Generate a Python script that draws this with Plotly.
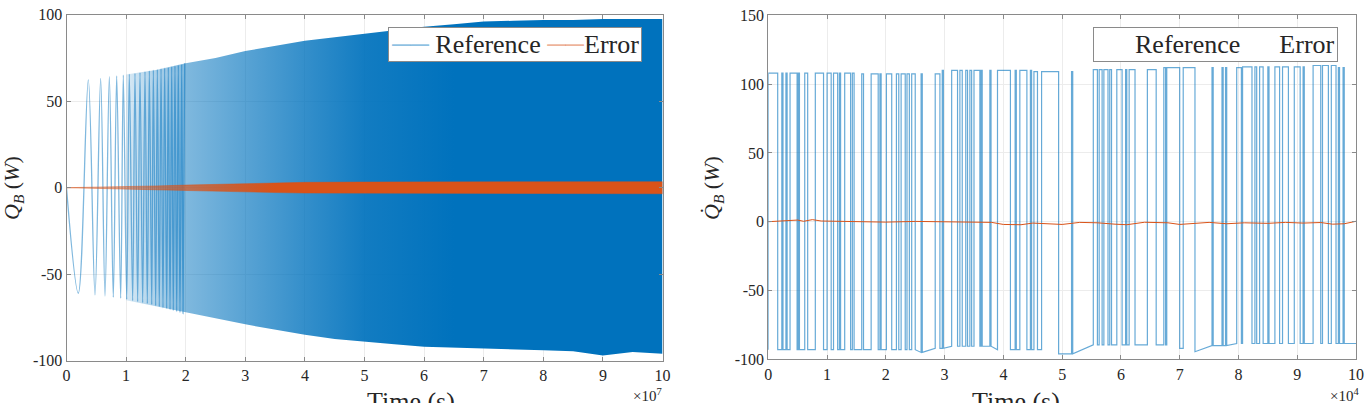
import numpy as np
import plotly.graph_objects as go

# ---------------- left panel: Q_B over time (time in units of 1e7 s) ----------------
# first visible oscillations of the reference chirp (peaks / troughs)
osc_t = [0, 0.198, 0.366, 0.478, 0.573, 0.646, 0.719, 0.785, 0.842, 0.909, 0.953,
         1.010, 1.054, 1.110, 1.149, 1.194, 1.233, 1.278, 1.317, 1.356, 1.390,
         1.430, 1.457, 1.496, 1.524, 1.557, 1.586, 1.619, 1.647, 1.681, 1.708,
         1.737, 1.765, 1.792, 1.820, 1.849, 1.876, 1.904, 1.933, 1.955, 1.983]
osc_q = [0, -61.0, 62.3, -62.0, 63.2, -62.6, 64.2, -63.4, 64.6, -63.9, 65.1,
         -64.5, 65.7, -65.3, 66.1, -65.9, 66.5, -66.5, 67.1, -67.0, 67.5,
         -67.6, 68.0, -68.2, 68.4, -68.8, 68.8, -69.4, 69.2, -69.9, 69.6,
         -70.5, 70.0, -71.1, 70.4, -71.7, 70.8, -72.2, 71.3, -72.8, 71.9]

# envelope of the dense part of the reference signal
env_t = [1, 1.5, 2, 2.5, 3, 3.5, 4, 4.5, 5, 5.5, 6, 6.5, 7, 7.5, 8, 8.5, 9, 9.5, 10]
env_upper = [65.5, 68, 72, 75, 79, 82, 85, 87, 89, 91, 93, 94.5, 96, 96.5, 97, 97, 97.5, 97.5, 97.5]
env_lower = [-65, -68.5, -72, -75.5, -79, -82, -85, -87.5, -89, -90.5, -92, -92.5, -93,
             -93.5, -94, -94.5, -97, -95, -96]

# error band amplitude
err_t = [0, 0.5, 1, 1.5, 2, 2.5, 3, 3.5, 4, 5, 6, 7, 8, 9, 10]
err_amp = [0, 0.2, 0.6, 1.0, 1.5, 2.0, 2.4, 2.8, 3.1, 3.3, 3.4, 3.4, 3.5, 3.5, 3.5]

# ---------------- right panel: Qdot_B over time (time in units of 1e4 s) ----------------
hi_start = [0.00, 0.23, 0.30, 0.37, 0.51, 0.62, 0.80, 1.00, 1.11, 1.21, 1.30, 1.43, 1.59,
            1.75, 1.90, 2.01, 2.18, 2.26, 2.36, 2.44, 2.60, 2.84, 2.96, 3.12, 3.26,
            3.36, 3.43, 3.50, 3.62, 3.77, 3.90, 4.20, 4.28, 4.46, 4.52, 4.65, 5.16,
            5.53, 5.63, 5.71, 5.81, 5.93, 6.08, 6.14, 6.45,
            6.73, 6.78, 7.06, 7.55, 7.72, 7.78, 7.97, 8.07, 8.28, 8.36, 8.50, 8.62,
            8.75, 8.95, 9.10, 9.27, 9.43, 9.58, 9.70, 9.78]
hi_end = [0.16, 0.25, 0.32, 0.49, 0.53, 0.67, 0.94, 1.07, 1.18, 1.23, 1.40, 1.46, 1.62,
          1.87, 1.92, 2.10, 2.22, 2.33, 2.40, 2.50, 2.62, 2.92, 2.98, 3.22, 3.30,
          3.39, 3.46, 3.60, 3.64, 3.79, 4.12, 4.22, 4.40, 4.48, 4.58, 4.94, 5.18,
          5.60, 5.68, 5.78, 5.84, 6.02, 6.10, 6.24, 6.60,
          6.76, 7.00, 7.26, 7.57, 7.74, 7.80, 8.05, 8.23, 8.31, 8.42, 8.52, 8.70,
          8.85, 9.05, 9.12, 9.40, 9.53, 9.66, 9.72, 9.80]

# plateau levels (step bands)
hi_band_t = [0, 1.5, 2.9, 4.5, 5.5, 6.7, 8.0, 9.2, 9.7]
hi_band_v = [108, 107.5, 110, 109, 110.5, 112, 112.5, 113.5, 112]
lo_band_t = [0, 2.55, 2.7, 3.0, 3.9, 4.9, 5.2, 5.45, 6.9, 7.2, 7.35, 7.9]
lo_band_v = [-93, -95, -92, -90.5, -93, -96, -92, -89.5, -92, -94.5, -90, -88.5]

# tracking error of the rate
rerr_t = [0, 0.3, 0.5, 0.6, 0.75, 0.9, 1.5, 2.0, 2.5, 3.0, 3.5, 3.8, 4.0, 4.3, 4.5, 4.8,
          5.0, 5.3, 5.6, 5.9, 6.1, 6.4, 6.8, 7.0, 7.2, 7.5, 7.8, 8.1, 8.5, 8.8, 9.1,
          9.4, 9.6, 9.8, 10]
rerr_q = [0, 0.8, 1.2, 0.3, 1.5, 0.5, 0.2, -0.3, 0.2, 0, -0.3, -0.5, -2.0, -2.2, -1.0,
          -1.5, -2.0, -0.5, -0.8, -1.8, -2.2, -0.4, -0.8, -2.0, -1.5, -0.5, -1.5, -0.8,
          -1.2, -0.5, -1.0, -0.6, -1.8, -1.5, 0.3]

# tick labels (plain hyphen minus as in the original)
left_yticks = [-100, -50, 0, 50, 100]
left_ylabels = ["-100", "-50", "0", "50", "100"]
right_yticks = [-100, -50, 0, 50, 100, 150]
right_ylabels = ["-100", "-50", "0", "50", "100", "150"]


def band_value(t, band_t, band_v):
    return band_v[np.searchsorted(band_t, t, side="right") - 1]


# build step signal from the plateau intervals
rx, ry = [], []
for s, e in zip(hi_start, hi_end):
    h = band_value(s, hi_band_t, hi_band_v)
    rx += [s, s, e, e]
    ry += [band_value(s, lo_band_t, lo_band_v), h, h, band_value(e, lo_band_t, lo_band_v)]
rx.append(10)
ry.append(band_value(10, lo_band_t, lo_band_v))

ORANGE = "#D95319"
SERIF = "Liberation Serif, Times New Roman, Times, serif"
TXT = "#262626"

fig = go.Figure()

# left panel traces
fig.add_trace(go.Scatter(
    x=env_t + env_t[::-1], y=env_upper + env_lower[::-1], fill="toself", mode="lines",
    line=dict(width=0),
    fillgradient=dict(type="horizontal", start=1.0, stop=6.5, colorscale=[
        [0, "rgba(0,114,189,0.15)"], [0.18, "rgba(0,114,189,0.5)"],
        [0.36, "rgba(0,114,189,0.65)"], [0.55, "rgba(0,114,189,0.8)"],
        [0.73, "rgba(0,114,189,0.93)"], [1, "rgba(0,114,189,1)"]]),
    hoverinfo="skip", xaxis="x", yaxis="y"))
fig.add_trace(go.Scatter(
    x=osc_t, y=osc_q, mode="lines", line=dict(color="rgba(0,114,189,0.5)", width=1.3, shape="spline"),
    xaxis="x", yaxis="y"))
fig.add_trace(go.Scatter(
    x=err_t + err_t[::-1], y=err_amp + [-a for a in err_amp[::-1]], fill="toself", mode="lines",
    line=dict(width=0.8, color="rgba(217,83,25,0.6)"),
    fillgradient=dict(type="horizontal", start=0.5, stop=3.5, colorscale=[
        [0, "rgba(217,83,25,0.4)"], [1, "rgba(217,83,25,1)"]]),
    hoverinfo="skip", xaxis="x", yaxis="y"))

# right panel traces
fig.add_trace(go.Scatter(x=rx, y=ry, mode="lines", line=dict(color="rgba(0,114,189,0.6)", width=1.2),
                         xaxis="x2", yaxis="y2"))
fig.add_trace(go.Scatter(x=rerr_t, y=rerr_q, mode="lines", line=dict(color=ORANGE, width=1),
                         xaxis="x2", yaxis="y2"))

axis_style = dict(showline=True, linecolor="#8a8a8a", linewidth=1, mirror="ticks",
                  ticks="inside", ticklen=4, tickcolor="#8a8a8a", showgrid=True,
                  gridcolor="#ececec", zeroline=False, automargin=False,
                  tickfont=dict(family=SERIF, size=16, color=TXT))

W, H = 1370, 403
fig.update_layout(
    width=W, height=H, margin=dict(l=0, r=0, t=0, b=0),
    plot_bgcolor="white", paper_bgcolor="white", showlegend=False,
    xaxis=dict(domain=[66.5 / W, 662.5 / W], range=[0, 10], dtick=1, anchor="y", **axis_style),
    yaxis=dict(domain=[1 - 360.7 / H, 1 - 14.7 / H], range=[-100, 100], tickvals=left_yticks,
               ticktext=left_ylabels, anchor="x", **axis_style),
    xaxis2=dict(domain=[768.3 / W, 1356 / W], range=[0, 10], dtick=1, anchor="y2", **axis_style),
    yaxis2=dict(domain=[1 - 359.3 / H, 1 - 15.3 / H], range=[-100, 150], tickvals=right_yticks,
                ticktext=right_ylabels, anchor="x2", **axis_style),
)

# legends as boxed text (MATLAB-style compact legend boxes)
sample = '<span style="color:{}">\u2500\u2500</span>'
nb = "\u00a0"
legend_font = dict(family=SERIF, size=26, color=TXT)
fig.add_annotation(x=642 / W, y=1 - 27 / H, xref="paper", yref="paper", xanchor="right",
                   yanchor="top", showarrow=False, bgcolor="white", bordercolor="#8a8a8a",
                   borderwidth=1, borderpad=2, font=legend_font,
                   text=sample.format("rgba(0,114,189,0.45)") + nb + "Reference" + nb
                   + sample.format("rgba(217,83,25,0.45)") + "Error")
fig.add_annotation(x=1338 / W, y=1 - 27 / H, xref="paper", yref="paper", xanchor="right",
                   yanchor="top", showarrow=False, bgcolor="white", bordercolor="#8a8a8a",
                   borderwidth=1, borderpad=2, font=legend_font,
                   text=nb * 6 + "Reference" + nb * 6 + "Error")

title_font = dict(family=SERIF, size=22, color=TXT)
fig.add_annotation(x=13 / W, y=1 - 188 / H, xref="paper", yref="paper", textangle=-90,
                   xanchor="center", yanchor="middle",
                   text="<i>Q</i><sub><i>B</i></sub> (<i>W</i>)", showarrow=False, font=title_font)
fig.add_annotation(x=713 / W, y=1 - 188 / H, xref="paper", yref="paper", textangle=-90,
                   xanchor="center", yanchor="middle",
                   text="<i>Q\u0307</i><sub><i>B</i></sub> (<i>W</i>)", showarrow=False, font=title_font)
for cx in (364.5, 1062):
    fig.add_annotation(x=cx / W, y=1 - 385 / H, xref="paper", yref="paper", yanchor="top",
                       text="Time (s)", showarrow=False, font=dict(family=SERIF, size=26, color=TXT))
fig.add_annotation(x=664 / W, y=1 - 384 / H, xref="paper", yref="paper", xanchor="right",
                   yanchor="top", text="\u00d710<sup>7</sup>", showarrow=False,
                   font=dict(family=SERIF, size=15, color=TXT))
fig.add_annotation(x=1361 / W, y=1 - 384 / H, xref="paper", yref="paper", xanchor="right",
                   yanchor="top", text="\u00d710<sup>4</sup>", showarrow=False,
                   font=dict(family=SERIF, size=15, color=TXT))

# the page's default body margin would shift the figure by 8px
fig.write_html("out.html", config={"displayModeBar": False},
               post_script="document.body.style.margin='0';")
